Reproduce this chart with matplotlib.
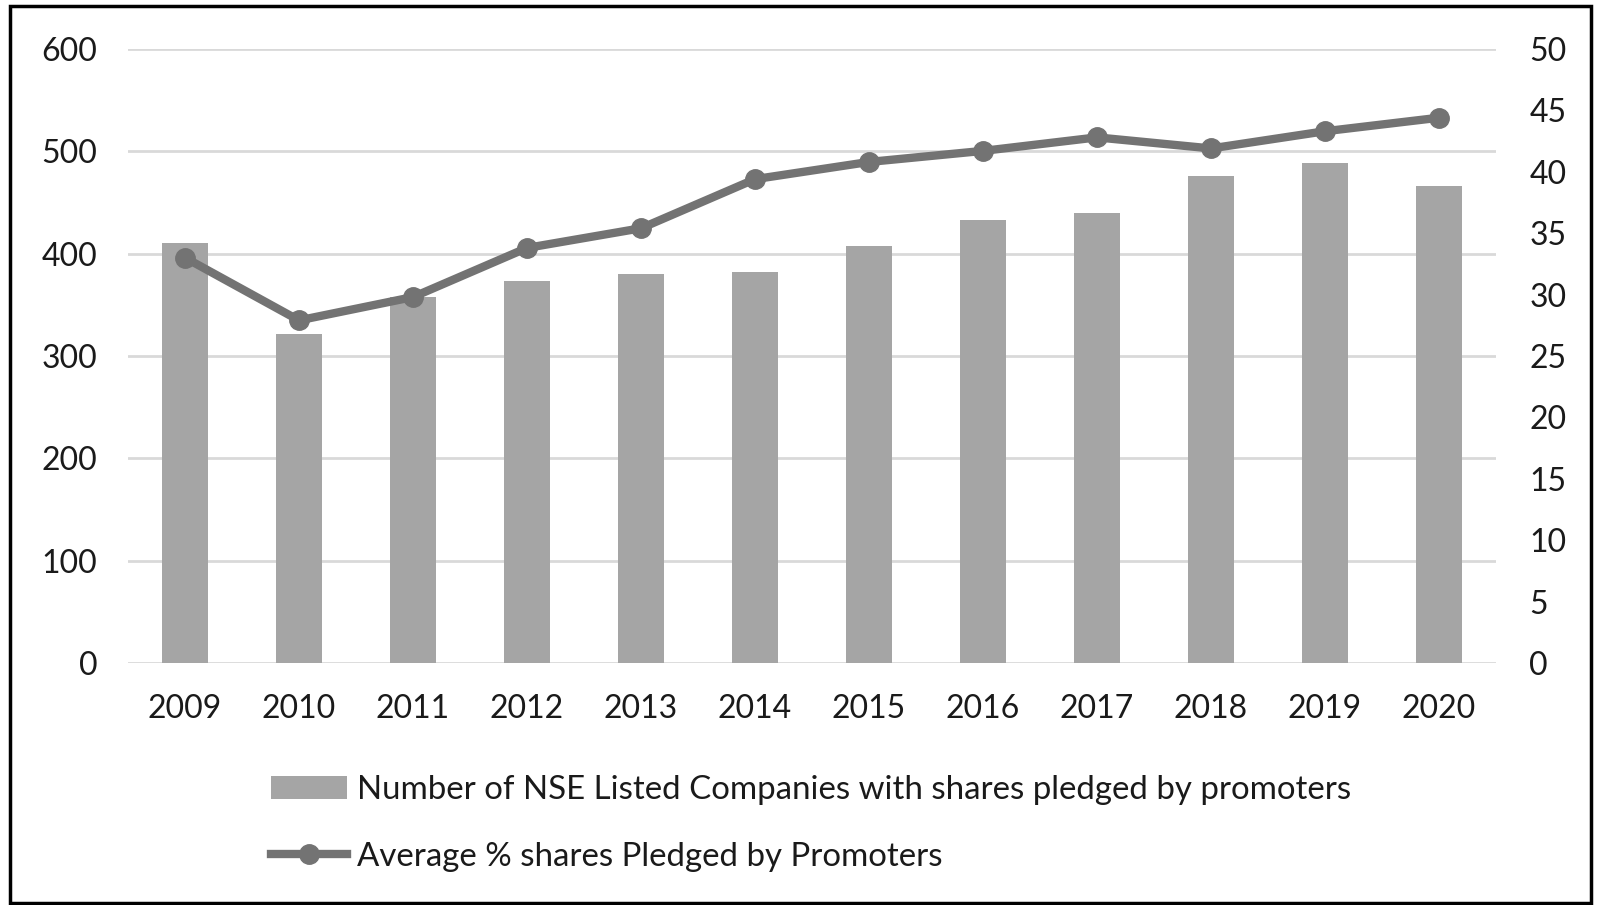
import matplotlib
matplotlib.use("Agg")
from matplotlib import pyplot as plt
from matplotlib.patches import Rectangle
import numpy as np

plt.rcParams['font.family'] = ['Lato', 'DejaVu Sans']

years = ['2009', '2010', '2011', '2012', '2013', '2014',
         '2015', '2016', '2017', '2018', '2019', '2020']
companies = [410, 321, 358, 373, 380, 382, 407, 433, 440, 476, 489, 466]
avg_pledged = [33.0, 27.9, 29.8, 33.8, 35.4, 39.4, 40.8, 41.7, 42.8, 41.9, 43.3, 44.4]

bar_label = 'Number of NSE Listed Companies with shares pledged by promoters'
line_label = 'Average % shares Pledged by Promoters'

bar_col = '#a5a5a5'
line_col = '#737373'
grid_col = '#d9d9d9'
text_col = '#1a1a1a'

fig = plt.figure(figsize=(16, 9.05), dpi=100)
ax = fig.add_axes([0.08, 0.2674, 0.855, 0.6785])
ax2 = ax.twinx()

x = np.arange(len(years))
bars = ax.bar(x, companies, width=0.41, color=bar_col, zorder=2)
line, = ax2.plot(x, avg_pledged, color=line_col, lw=6, marker='o',
                 markersize=14, zorder=3)

ax.set_xlim(-0.5, len(years) - 0.5)
ax.set_ylim(0, 600)
ax.set_yticks(range(0, 601, 100))
ax2.set_ylim(0, 50)
ax2.set_yticks(range(0, 51, 5))
ax.set_xticks(x)
ax.set_xticklabels(years)

ax.yaxis.grid(True, color=grid_col, lw=2, zorder=0)
ax.set_axisbelow(True)
for a in (ax, ax2):
    for s in a.spines.values():
        s.set_visible(False)
    a.tick_params(length=0, labelsize=23, colors=text_col)
ax.tick_params(axis='y', pad=22)
ax2.tick_params(axis='y', pad=24)
ax.tick_params(axis='x', pad=22)

leg = fig.legend([bars, line], [bar_label, line_label], loc='upper left',
                 bbox_to_anchor=(0.1695, 0.144), frameon=False, fontsize=23.8,
                 handlelength=2.3, handletextpad=0.3, labelspacing=1.12,
                 borderaxespad=0, borderpad=0)
for t in leg.get_texts():
    t.set_color(text_col)

# outer frame round the figure
fig.patches.append(Rectangle((10 / 1600, 2 / 905), 1581 / 1600, 897 / 905,
                             transform=fig.transFigure, fill=False,
                             edgecolor='black', lw=2.5))

fig.savefig('out.png', dpi=100)
